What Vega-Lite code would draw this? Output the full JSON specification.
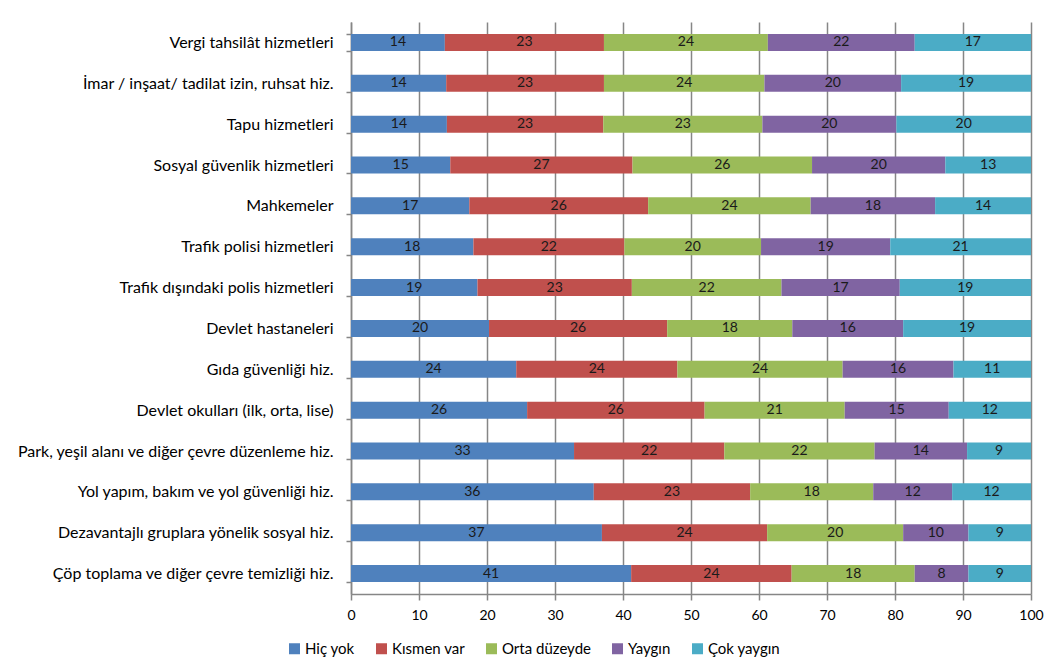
{
  "$schema": "https://vega.github.io/schema/vega-lite/v6.json",
  "autosize": "none",
  "width": 680,
  "height": 572,
  "padding": {"left": 351, "top": 22, "right": 20, "bottom": 76},
  "background": "white",
  "config": {
    "font": "Lato",
    "view": {"stroke": null},
    "axis": {"labelFont": "Lato", "labelColor": "#000000", "titleFont": "Lato"},
    "legend": {"labelFont": "Lato"}
  },
  "data": {
    "values": [
      {"s": "Vergi tahsilât hizmetleri", "Hiç yok": 13.8, "Kısmen var": 23.4, "Orta düzeyde": 24.1, "Yaygın": 21.6, "Çok yaygın": 17.1},
      {"s": "İmar / inşaat/ tadilat izin, ruhsat hiz.", "Hiç yok": 14.0, "Kısmen var": 23.2, "Orta düzeyde": 23.6, "Yaygın": 20.1, "Çok yaygın": 19.1},
      {"s": "Tapu hizmetleri", "Hiç yok": 14.1, "Kısmen var": 23.0, "Orta düzeyde": 23.4, "Yaygın": 19.7, "Çok yaygın": 19.8},
      {"s": "Sosyal güvenlik hizmetleri", "Hiç yok": 14.6, "Kısmen var": 26.8, "Orta düzeyde": 26.4, "Yaygın": 19.6, "Çok yaygın": 12.6},
      {"s": "Mahkemeler", "Hiç yok": 17.4, "Kısmen var": 26.3, "Orta düzeyde": 23.9, "Yaygın": 18.3, "Çok yaygın": 14.1},
      {"s": "Trafik polisi hizmetleri", "Hiç yok": 18.0, "Kısmen var": 22.2, "Orta düzeyde": 20.1, "Yaygın": 19.0, "Çok yaygın": 20.7},
      {"s": "Trafik dışındaki polis hizmetleri", "Hiç yok": 18.6, "Kısmen var": 22.7, "Orta düzeyde": 22.0, "Yaygın": 17.4, "Çok yaygın": 19.3},
      {"s": "Devlet hastaneleri", "Hiç yok": 20.3, "Kısmen var": 26.2, "Orta düzeyde": 18.4, "Yaygın": 16.3, "Çok yaygın": 18.8},
      {"s": "Gıda güvenliği hiz.", "Hiç yok": 24.3, "Kısmen var": 23.7, "Orta düzeyde": 24.3, "Yaygın": 16.3, "Çok yaygın": 11.4},
      {"s": "Devlet okulları (ilk, orta, lise)", "Hiç yok": 25.9, "Kısmen var": 26.1, "Orta düzeyde": 20.6, "Yaygın": 15.3, "Çok yaygın": 12.1},
      {"s": "Park, yeşil alanı ve diğer çevre düzenleme hiz.", "Hiç yok": 32.8, "Kısmen var": 22.1, "Orta düzeyde": 22.1, "Yaygın": 13.6, "Çok yaygın": 9.4},
      {"s": "Yol yapım, bakım ve yol güvenliği hiz.", "Hiç yok": 35.7, "Kısmen var": 23.0, "Orta düzeyde": 18.1, "Yaygın": 11.6, "Çok yaygın": 11.6},
      {"s": "Dezavantajlı gruplara yönelik sosyal hiz.", "Hiç yok": 36.9, "Kısmen var": 24.3, "Orta düzeyde": 20.0, "Yaygın": 9.6, "Çok yaygın": 9.2},
      {"s": "Çöp toplama ve diğer çevre temizliği hiz.", "Hiç yok": 41.2, "Kısmen var": 23.6, "Orta düzeyde": 18.1, "Yaygın": 7.9, "Çok yaygın": 9.2}
    ]
  },
  "transform": [
    {"fold": ["Hiç yok", "Kısmen var", "Orta düzeyde", "Yaygın", "Çok yaygın"], "as": ["cat", "v"]}
  ],
  "encoding": {
    "y": {
      "field": "s",
      "type": "nominal",
      "sort": null,
      "title": null,
      "scale": {"paddingInner": 0.584, "paddingOuter": 0.292},
      "axis": {
        "tickBand": "extent",
        "tickSize": 5,
        "tickColor": "#868686",
        "tickWidth": 1.5,
        "domainColor": "#868686",
        "domainWidth": 1.5,
        "labelFontSize": 16,
        "labelPadding": 13,
        "labelLimit": 400
      }
    },
    "order": {"field": "cat", "sort": "ascending"}
  },
  "layer": [
    {
      "mark": {"type": "bar"},
      "encoding": {
        "x": {
          "field": "v",
          "type": "quantitative",
          "stack": "zero",
          "title": null,
          "scale": {"domain": [0, 100], "nice": false},
          "axis": {
            "values": [0, 10, 20, 30, 40, 50, 60, 70, 80, 90, 100],
            "grid": true,
            "gridColor": "#868686",
            "gridWidth": 1.5,
            "tickSize": 6,
            "tickColor": "#868686",
            "tickWidth": 1.5,
            "domainColor": "#868686",
            "domainWidth": 1.5,
            "labelFontSize": 14,
            "labelPadding": 8,
            "labelFlush": false
          }
        },
        "color": {
          "field": "cat",
          "type": "nominal",
          "title": null,
          "scale": {
            "domain": ["Hiç yok", "Kısmen var", "Orta düzeyde", "Yaygın", "Çok yaygın"],
            "range": ["#4F81BD", "#C0504D", "#9BBB59", "#8064A2", "#4BACC6"]
          },
          "legend": {
            "orient": "none",
            "direction": "horizontal",
            "legendX": -64,
            "legendY": 619,
            "symbolType": "square",
            "symbolSize": 121,
            "symbolStrokeWidth": 0,
            "labelFontSize": 15,
            "labelColor": "#000000",
            "columnPadding": 19,
            "labelOffset": 3
          }
        }
      }
    },
    {
      "mark": {"type": "text", "fontSize": 14, "color": "#1a1a1a", "font": "Lato"},
      "encoding": {
        "x": {"field": "v", "type": "quantitative", "stack": "zero", "bandPosition": 0.5},
        "text": {"field": "v", "type": "quantitative", "format": ".0f"}
      }
    }
  ]
}
